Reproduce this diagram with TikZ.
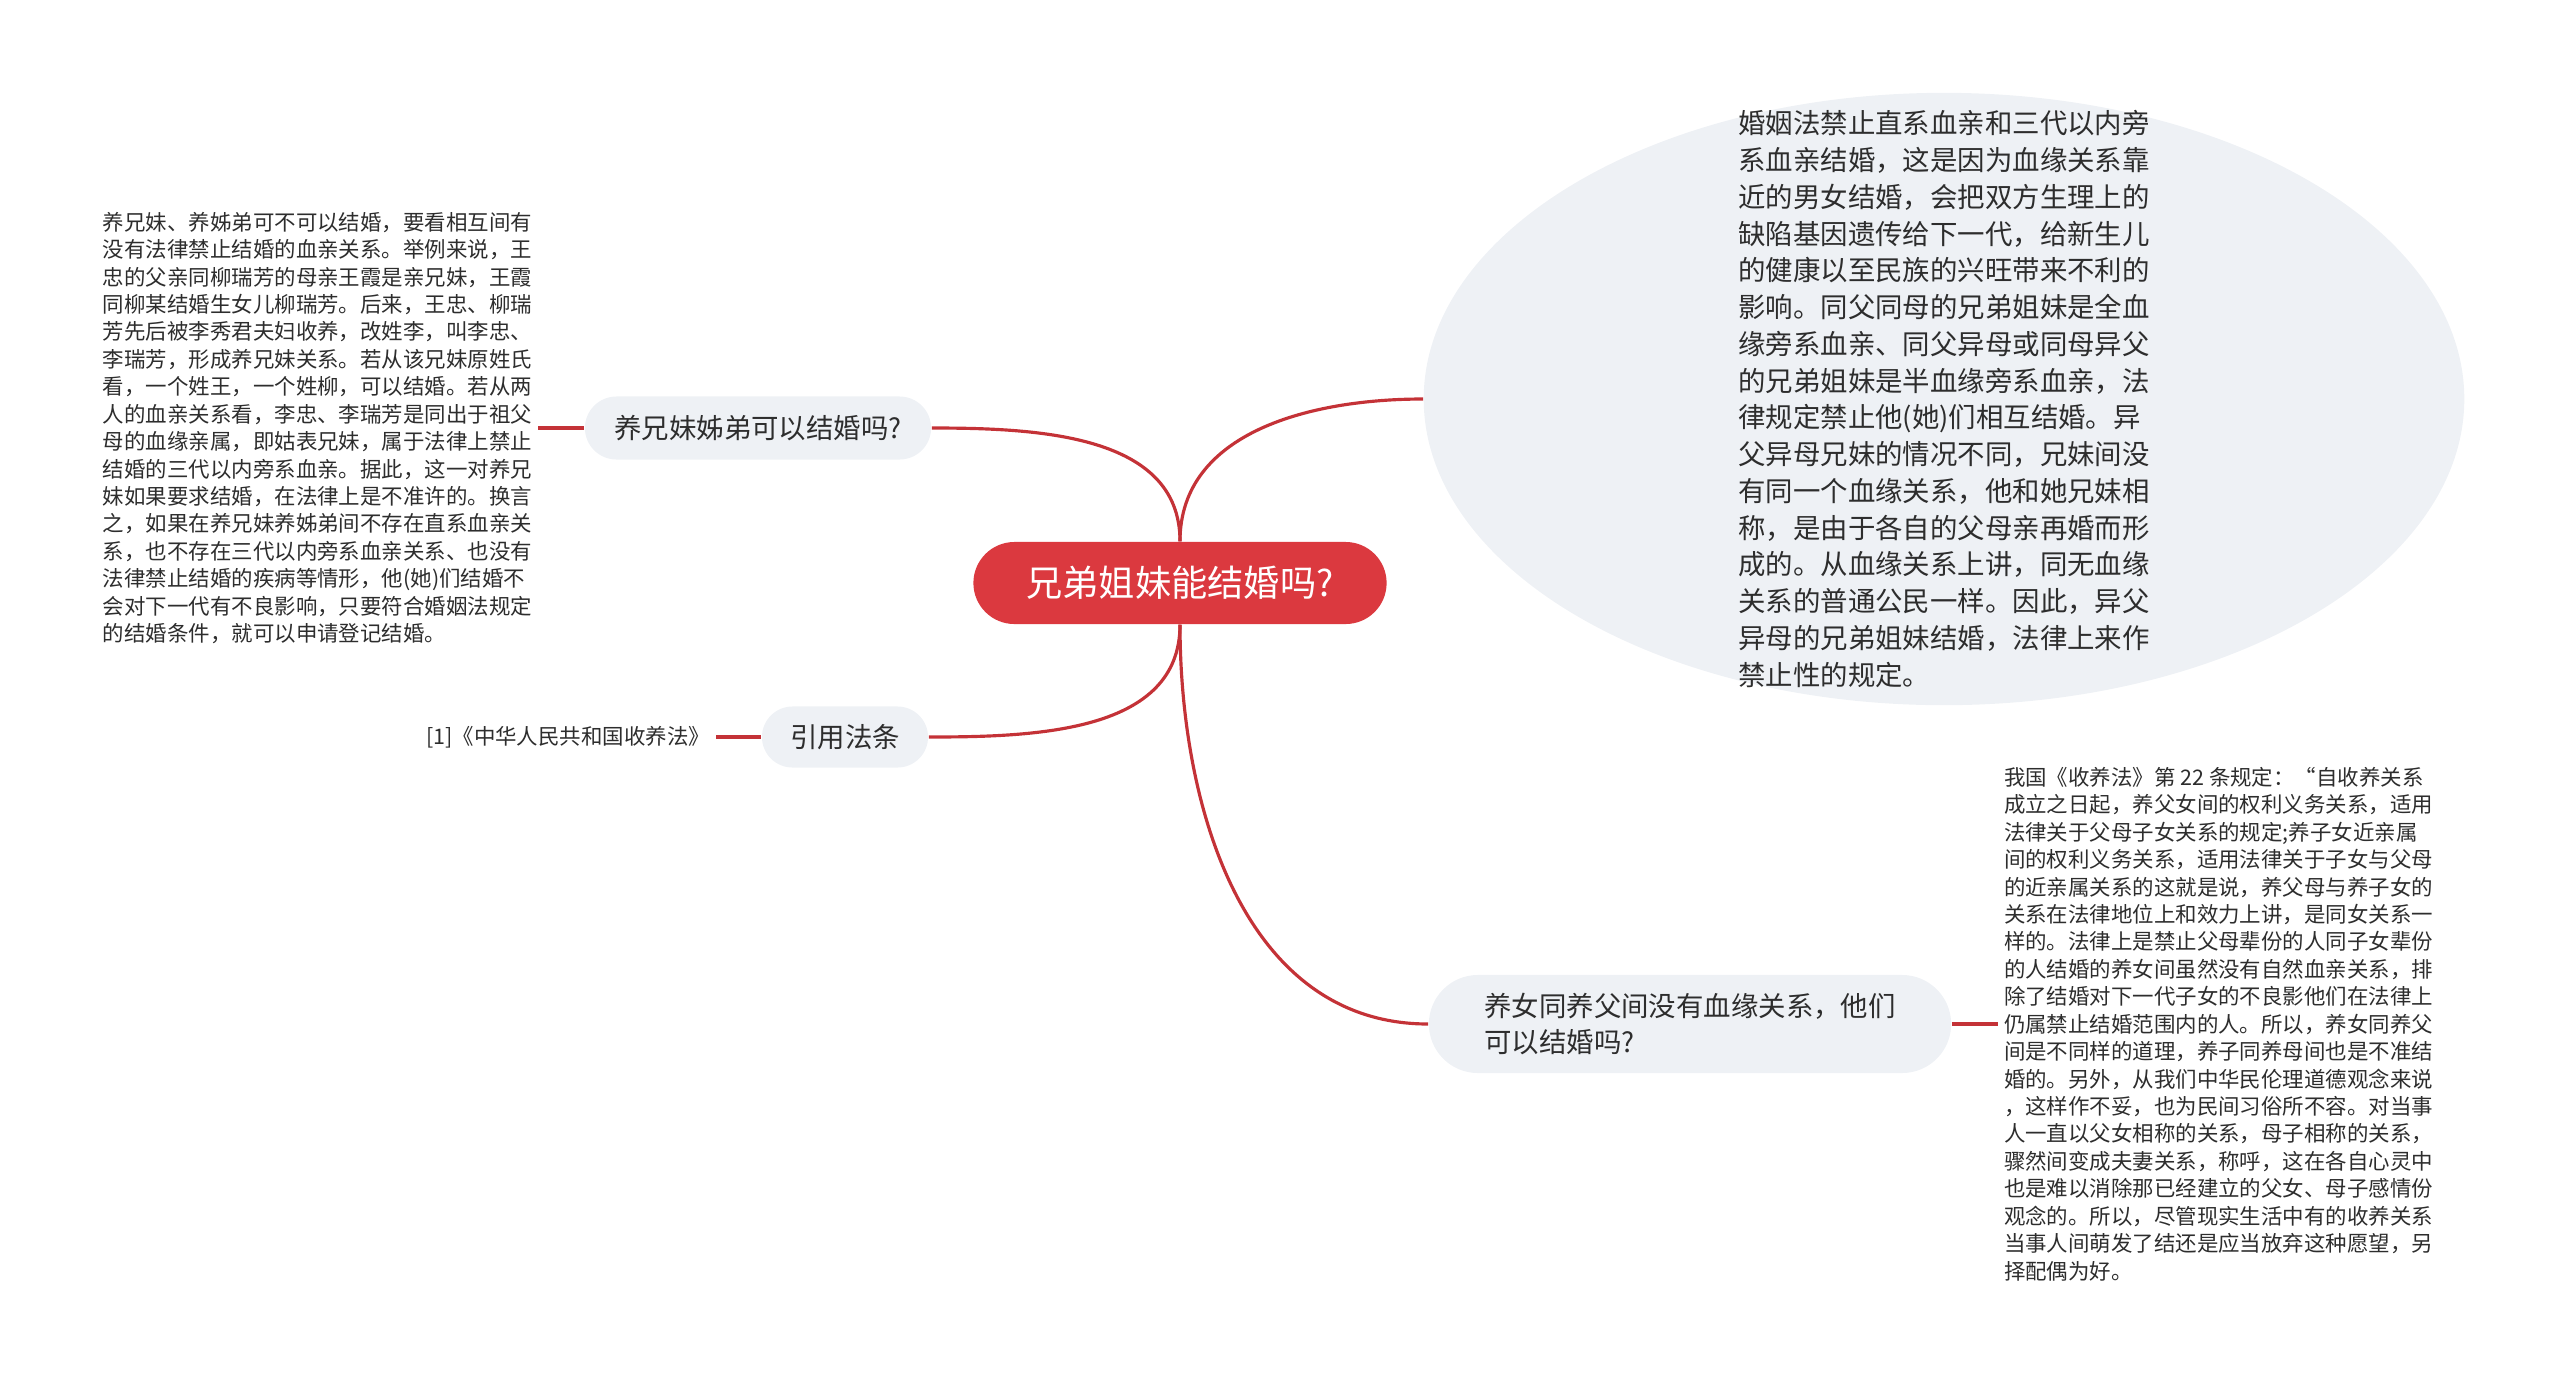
\documentclass[tikz,border=0pt]{standalone}
\usepackage{fontspec}
\setmainfont{Noto Sans CJK SC}
\usetikzlibrary{shapes.geometric}

\definecolor{rootred}{RGB}{219,57,63}
\definecolor{linkred}{RGB}{196,50,55}
\definecolor{bubblegray}{RGB}{238,241,245}
\definecolor{txtgray}{RGB}{45,45,45}

\tikzset{
  link/.style={draw=linkred, line width=0.9pt},
  topic/.style={fill=bubblegray, text=txtgray, inner sep=0pt,
    font=\fontsize{7.8}{10.2}\selectfont, align=left},
  note/.style={text=txtgray, inner sep=1.5pt, align=left,
    font=\fontsize{6.1}{7.8}\selectfont},
}

\begin{document}
\begin{tikzpicture}[x=0.01cm,y=-0.01cm]
\useasboundingbox (0,0) rectangle (2560,1387);

% centre
\node[fill=rootred, text=white, rounded corners=0.41cm, minimum width=4.13cm,
  minimum height=0.82cm, inner sep=0pt, font=\fontsize{10.3}{12}\selectfont]
  (root) at (1180,583) {兄弟姐妹能结婚吗?};

% branches
\node[topic, rounded corners=0.315cm, minimum width=3.46cm, minimum height=0.63cm]
  (q1) at (758,428) {养兄妹姊弟可以结婚吗?};
\node[topic, rounded corners=0.305cm, minimum width=1.66cm, minimum height=0.61cm]
  (law) at (845,737) {引用法条};
\node[topic, rounded corners=0.49cm, minimum width=5.22cm, minimum height=0.98cm]
  (q3) at (1690,1024) {养女同养父间没有血缘关系，他们\\可以结婚吗?};
\node[topic, ellipse, minimum width=10.4cm, minimum height=6.12cm, inner ysep=-2cm,
  font=\fontsize{7.8}{10.45}\selectfont]
  (blood) at (1944,399) {婚姻法禁止直系血亲和三代以内旁\\系血亲结婚，这是因为血缘关系靠\\近的男女结婚，会把双方生理上的\\缺陷基因遗传给下一代，给新生儿\\的健康以至民族的兴旺带来不利的\\影响。同父同母的兄弟姐妹是全血\\缘旁系血亲、同父异母或同母异父\\的兄弟姐妹是半血缘旁系血亲，法\\律规定禁止他(她)们相互结婚。异\\父异母兄妹的情况不同，兄妹间没\\有同一个血缘关系，他和她兄妹相\\称，是由于各自的父母亲再婚而形\\成的。从血缘关系上讲，同无血缘\\关系的普通公民一样。因此，异父\\异母的兄弟姐妹结婚，法律上来作\\禁止性的规定。};

% notes
\node[note, anchor=east] (ltext) at (538,428) {养兄妹、养姊弟可不可以结婚，要看相互间有\\没有法律禁止结婚的血亲关系。举例来说，王\\忠的父亲同柳瑞芳的母亲王霞是亲兄妹，王霞\\同柳某结婚生女儿柳瑞芳。后来，王忠、柳瑞\\芳先后被李秀君夫妇收养，改姓李，叫李忠、\\李瑞芳，形成养兄妹关系。若从该兄妹原姓氏\\看，一个姓王，一个姓柳，可以结婚。若从两\\人的血亲关系看，李忠、李瑞芳是同出于祖父\\母的血缘亲属，即姑表兄妹，属于法律上禁止\\结婚的三代以内旁系血亲。据此，这一对养兄\\妹如果要求结婚，在法律上是不准许的。换言\\之，如果在养兄妹养姊弟间不存在直系血亲关\\系，也不存在三代以内旁系血亲关系、也没有\\法律禁止结婚的疾病等情形，他(她)们结婚不\\会对下一代有不良影响，只要符合婚姻法规定\\的结婚条件，就可以申请登记结婚。};
\node[note, anchor=east] (lawtext) at (716,737) {[1]《中华人民共和国收养法》};
\node[note, anchor=west] (rtext) at (1998,1024) {我国《收养法》第 22 条规定：“自收养关系\\成立之日起，养父女间的权利义务关系，适用\\法律关于父母子女关系的规定;养子女近亲属\\间的权利义务关系，适用法律关于子女与父母\\的近亲属关系的这就是说，养父母与养子女的\\关系在法律地位上和效力上讲，是同女关系一\\样的。法律上是禁止父母辈份的人同子女辈份\\的人结婚的养女间虽然没有自然血亲关系，排\\除了结婚对下一代子女的不良影他们在法律上\\仍属禁止结婚范围内的人。所以，养女同养父\\间是不同样的道理，养子同养母间也是不准结\\婚的。另外，从我们中华民伦理道德观念来说\\，这样作不妥，也为民间习俗所不容。对当事\\人一直以父女相称的关系，母子相称的关系，\\骤然间变成夫妻关系，称呼，这在各自心灵中\\也是难以消除那已经建立的父女、母子感情份\\观念的。所以，尽管现实生活中有的收养关系\\当事人间萌发了结还是应当放弃这种愿望，另\\择配偶为好。};

% connectors
\draw[link] (root.north) to[out=90, in=0] (q1.east);
\draw[link] (root.north) to[out=90, in=180] (blood.west);
\draw[link] (root.south) to[out=-90, in=0] (law.east);
\draw[link] (root.south) to[out=-90, in=180] (q3.west);
\draw[link] (ltext.east) -- (q1.west);
\draw[link] (lawtext.east) -- (law.west);
\draw[link] (q3.east) -- (rtext.west);
\end{tikzpicture}
\end{document}
